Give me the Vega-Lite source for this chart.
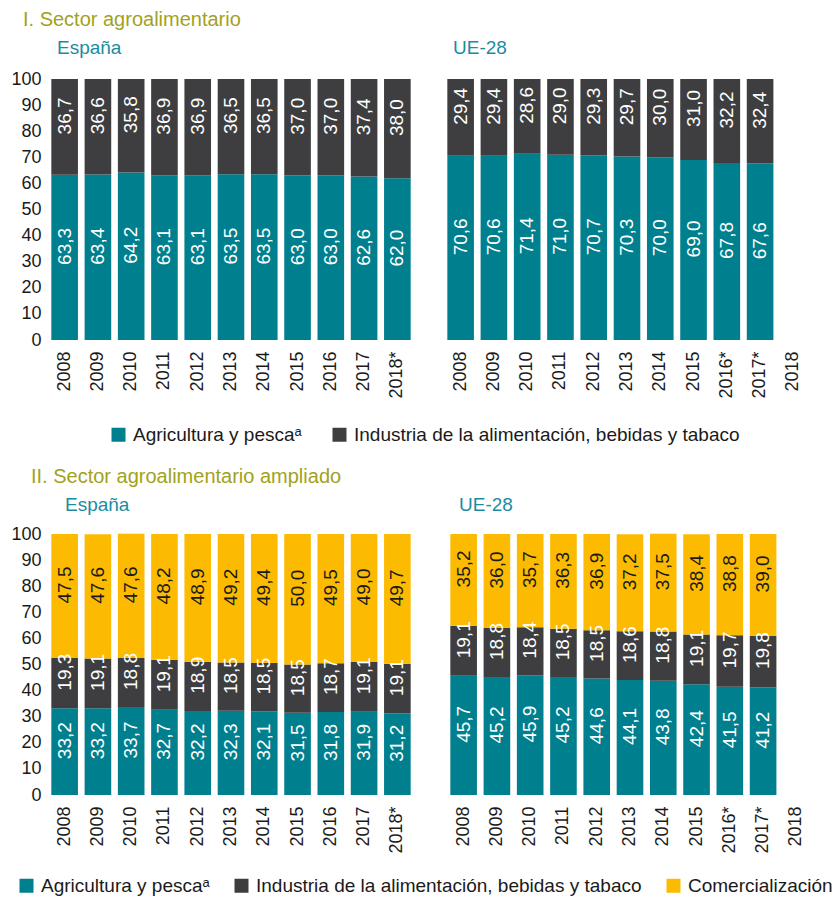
{
  "$schema": "https://vega.github.io/schema/vega-lite/v6.json",
  "padding": {"left": 10, "top": 10, "right": 0, "bottom": 0},
  "background": "white",
  "config": {
    "font": "Liberation Sans",
    "locale": {"number": {"decimal": ",", "thousands": ".", "grouping": [3], "currency": ["", " €"]}},
    "view": {"stroke": null},
    "axis": {"labelFont": "Liberation Sans", "labelFontSize": 18, "labelColor": "#1a1a1a", "domain": false, "ticks": false, "grid": false},
    "legend": {"padding": 0, "orient": "none", "direction": "horizontal", "symbolType": "square", "symbolSize": 196, "symbolStrokeWidth": 0, "labelFont": "Liberation Sans", "labelFontSize": 19, "labelColor": "#1a1a1a", "labelOffset": 5, "labelLimit": 0},
    "title": {"fontWeight": "normal", "anchor": "start", "font": "Liberation Sans"}
  },
  "datasets": {
    "topES": [
      {"year": "2008", "cat": "Agricultura y pescaᵃ", "k": 1, "v": 63.3},
      {"year": "2009", "cat": "Agricultura y pescaᵃ", "k": 1, "v": 63.4},
      {"year": "2010", "cat": "Agricultura y pescaᵃ", "k": 1, "v": 64.2},
      {"year": "2011", "cat": "Agricultura y pescaᵃ", "k": 1, "v": 63.1},
      {"year": "2012", "cat": "Agricultura y pescaᵃ", "k": 1, "v": 63.1},
      {"year": "2013", "cat": "Agricultura y pescaᵃ", "k": 1, "v": 63.5},
      {"year": "2014", "cat": "Agricultura y pescaᵃ", "k": 1, "v": 63.5},
      {"year": "2015", "cat": "Agricultura y pescaᵃ", "k": 1, "v": 63.0},
      {"year": "2016", "cat": "Agricultura y pescaᵃ", "k": 1, "v": 63.0},
      {"year": "2017", "cat": "Agricultura y pescaᵃ", "k": 1, "v": 62.6},
      {"year": "2018*", "cat": "Agricultura y pescaᵃ", "k": 1, "v": 62.0},
      {"year": "2008", "cat": "Industria de la alimentación, bebidas y tabaco", "k": 2, "v": 36.7},
      {"year": "2009", "cat": "Industria de la alimentación, bebidas y tabaco", "k": 2, "v": 36.6},
      {"year": "2010", "cat": "Industria de la alimentación, bebidas y tabaco", "k": 2, "v": 35.8},
      {"year": "2011", "cat": "Industria de la alimentación, bebidas y tabaco", "k": 2, "v": 36.9},
      {"year": "2012", "cat": "Industria de la alimentación, bebidas y tabaco", "k": 2, "v": 36.9},
      {"year": "2013", "cat": "Industria de la alimentación, bebidas y tabaco", "k": 2, "v": 36.5},
      {"year": "2014", "cat": "Industria de la alimentación, bebidas y tabaco", "k": 2, "v": 36.5},
      {"year": "2015", "cat": "Industria de la alimentación, bebidas y tabaco", "k": 2, "v": 37.0},
      {"year": "2016", "cat": "Industria de la alimentación, bebidas y tabaco", "k": 2, "v": 37.0},
      {"year": "2017", "cat": "Industria de la alimentación, bebidas y tabaco", "k": 2, "v": 37.4},
      {"year": "2018*", "cat": "Industria de la alimentación, bebidas y tabaco", "k": 2, "v": 38.0}
    ],
    "topUE": [
      {"year": "2008", "cat": "Agricultura y pescaᵃ", "k": 1, "v": 70.6},
      {"year": "2009", "cat": "Agricultura y pescaᵃ", "k": 1, "v": 70.6},
      {"year": "2010", "cat": "Agricultura y pescaᵃ", "k": 1, "v": 71.4},
      {"year": "2011", "cat": "Agricultura y pescaᵃ", "k": 1, "v": 71.0},
      {"year": "2012", "cat": "Agricultura y pescaᵃ", "k": 1, "v": 70.7},
      {"year": "2013", "cat": "Agricultura y pescaᵃ", "k": 1, "v": 70.3},
      {"year": "2014", "cat": "Agricultura y pescaᵃ", "k": 1, "v": 70.0},
      {"year": "2015", "cat": "Agricultura y pescaᵃ", "k": 1, "v": 69.0},
      {"year": "2016*", "cat": "Agricultura y pescaᵃ", "k": 1, "v": 67.8},
      {"year": "2017*", "cat": "Agricultura y pescaᵃ", "k": 1, "v": 67.6},
      {"year": "2008", "cat": "Industria de la alimentación, bebidas y tabaco", "k": 2, "v": 29.4},
      {"year": "2009", "cat": "Industria de la alimentación, bebidas y tabaco", "k": 2, "v": 29.4},
      {"year": "2010", "cat": "Industria de la alimentación, bebidas y tabaco", "k": 2, "v": 28.6},
      {"year": "2011", "cat": "Industria de la alimentación, bebidas y tabaco", "k": 2, "v": 29.0},
      {"year": "2012", "cat": "Industria de la alimentación, bebidas y tabaco", "k": 2, "v": 29.3},
      {"year": "2013", "cat": "Industria de la alimentación, bebidas y tabaco", "k": 2, "v": 29.7},
      {"year": "2014", "cat": "Industria de la alimentación, bebidas y tabaco", "k": 2, "v": 30.0},
      {"year": "2015", "cat": "Industria de la alimentación, bebidas y tabaco", "k": 2, "v": 31.0},
      {"year": "2016*", "cat": "Industria de la alimentación, bebidas y tabaco", "k": 2, "v": 32.2},
      {"year": "2017*", "cat": "Industria de la alimentación, bebidas y tabaco", "k": 2, "v": 32.4}
    ],
    "botES": [
      {"year": "2008", "cat": "Agricultura y pescaᵃ", "k": 1, "v": 33.2},
      {"year": "2009", "cat": "Agricultura y pescaᵃ", "k": 1, "v": 33.2},
      {"year": "2010", "cat": "Agricultura y pescaᵃ", "k": 1, "v": 33.7},
      {"year": "2011", "cat": "Agricultura y pescaᵃ", "k": 1, "v": 32.7},
      {"year": "2012", "cat": "Agricultura y pescaᵃ", "k": 1, "v": 32.2},
      {"year": "2013", "cat": "Agricultura y pescaᵃ", "k": 1, "v": 32.3},
      {"year": "2014", "cat": "Agricultura y pescaᵃ", "k": 1, "v": 32.1},
      {"year": "2015", "cat": "Agricultura y pescaᵃ", "k": 1, "v": 31.5},
      {"year": "2016", "cat": "Agricultura y pescaᵃ", "k": 1, "v": 31.8},
      {"year": "2017", "cat": "Agricultura y pescaᵃ", "k": 1, "v": 31.9},
      {"year": "2018*", "cat": "Agricultura y pescaᵃ", "k": 1, "v": 31.2},
      {"year": "2008", "cat": "Industria de la alimentación, bebidas y tabaco", "k": 2, "v": 19.3},
      {"year": "2009", "cat": "Industria de la alimentación, bebidas y tabaco", "k": 2, "v": 19.1},
      {"year": "2010", "cat": "Industria de la alimentación, bebidas y tabaco", "k": 2, "v": 18.8},
      {"year": "2011", "cat": "Industria de la alimentación, bebidas y tabaco", "k": 2, "v": 19.1},
      {"year": "2012", "cat": "Industria de la alimentación, bebidas y tabaco", "k": 2, "v": 18.9},
      {"year": "2013", "cat": "Industria de la alimentación, bebidas y tabaco", "k": 2, "v": 18.5},
      {"year": "2014", "cat": "Industria de la alimentación, bebidas y tabaco", "k": 2, "v": 18.5},
      {"year": "2015", "cat": "Industria de la alimentación, bebidas y tabaco", "k": 2, "v": 18.5},
      {"year": "2016", "cat": "Industria de la alimentación, bebidas y tabaco", "k": 2, "v": 18.7},
      {"year": "2017", "cat": "Industria de la alimentación, bebidas y tabaco", "k": 2, "v": 19.1},
      {"year": "2018*", "cat": "Industria de la alimentación, bebidas y tabaco", "k": 2, "v": 19.1},
      {"year": "2008", "cat": "Comercialización", "k": 3, "v": 47.5},
      {"year": "2009", "cat": "Comercialización", "k": 3, "v": 47.6},
      {"year": "2010", "cat": "Comercialización", "k": 3, "v": 47.6},
      {"year": "2011", "cat": "Comercialización", "k": 3, "v": 48.2},
      {"year": "2012", "cat": "Comercialización", "k": 3, "v": 48.9},
      {"year": "2013", "cat": "Comercialización", "k": 3, "v": 49.2},
      {"year": "2014", "cat": "Comercialización", "k": 3, "v": 49.4},
      {"year": "2015", "cat": "Comercialización", "k": 3, "v": 50.0},
      {"year": "2016", "cat": "Comercialización", "k": 3, "v": 49.5},
      {"year": "2017", "cat": "Comercialización", "k": 3, "v": 49.0},
      {"year": "2018*", "cat": "Comercialización", "k": 3, "v": 49.7}
    ],
    "botUE": [
      {"year": "2008", "cat": "Agricultura y pescaᵃ", "k": 1, "v": 45.7},
      {"year": "2009", "cat": "Agricultura y pescaᵃ", "k": 1, "v": 45.2},
      {"year": "2010", "cat": "Agricultura y pescaᵃ", "k": 1, "v": 45.9},
      {"year": "2011", "cat": "Agricultura y pescaᵃ", "k": 1, "v": 45.2},
      {"year": "2012", "cat": "Agricultura y pescaᵃ", "k": 1, "v": 44.6},
      {"year": "2013", "cat": "Agricultura y pescaᵃ", "k": 1, "v": 44.1},
      {"year": "2014", "cat": "Agricultura y pescaᵃ", "k": 1, "v": 43.8},
      {"year": "2015", "cat": "Agricultura y pescaᵃ", "k": 1, "v": 42.4},
      {"year": "2016*", "cat": "Agricultura y pescaᵃ", "k": 1, "v": 41.5},
      {"year": "2017*", "cat": "Agricultura y pescaᵃ", "k": 1, "v": 41.2},
      {"year": "2008", "cat": "Industria de la alimentación, bebidas y tabaco", "k": 2, "v": 19.1},
      {"year": "2009", "cat": "Industria de la alimentación, bebidas y tabaco", "k": 2, "v": 18.8},
      {"year": "2010", "cat": "Industria de la alimentación, bebidas y tabaco", "k": 2, "v": 18.4},
      {"year": "2011", "cat": "Industria de la alimentación, bebidas y tabaco", "k": 2, "v": 18.5},
      {"year": "2012", "cat": "Industria de la alimentación, bebidas y tabaco", "k": 2, "v": 18.5},
      {"year": "2013", "cat": "Industria de la alimentación, bebidas y tabaco", "k": 2, "v": 18.6},
      {"year": "2014", "cat": "Industria de la alimentación, bebidas y tabaco", "k": 2, "v": 18.8},
      {"year": "2015", "cat": "Industria de la alimentación, bebidas y tabaco", "k": 2, "v": 19.1},
      {"year": "2016*", "cat": "Industria de la alimentación, bebidas y tabaco", "k": 2, "v": 19.7},
      {"year": "2017*", "cat": "Industria de la alimentación, bebidas y tabaco", "k": 2, "v": 19.8},
      {"year": "2008", "cat": "Comercialización", "k": 3, "v": 35.2},
      {"year": "2009", "cat": "Comercialización", "k": 3, "v": 36.0},
      {"year": "2010", "cat": "Comercialización", "k": 3, "v": 35.7},
      {"year": "2011", "cat": "Comercialización", "k": 3, "v": 36.3},
      {"year": "2012", "cat": "Comercialización", "k": 3, "v": 36.9},
      {"year": "2013", "cat": "Comercialización", "k": 3, "v": 37.2},
      {"year": "2014", "cat": "Comercialización", "k": 3, "v": 37.5},
      {"year": "2015", "cat": "Comercialización", "k": 3, "v": 38.4},
      {"year": "2016*", "cat": "Comercialización", "k": 3, "v": 38.8},
      {"year": "2017*", "cat": "Comercialización", "k": 3, "v": 39.0}
    ]
  },
  "vconcat": [
    {
      "title": {"text": "I. Sector agroalimentario", "color": "#a2a21c", "fontSize": 20, "frame": "bounds", "dx": 12, "offset": -7, "baseline": "alphabetic"},
      "spacing": 30,
      "resolve": {"scale": {"color": "shared", "x": "independent", "y": "independent"}},
      "hconcat": [
        {
          "data": {"name": "topES"},
          "width": 366, "height": 261,
          "title": {"text": "España", "color": "#1b8ca0", "fontSize": 19, "dx": 9, "offset": -3, "baseline": "alphabetic", "frame": "group"},
          "encoding": {
            "x": {"field": "year", "type": "nominal", "title": null, "scale": {"domain": ["2008","2009","2010","2011","2012","2013","2014","2015","2016","2017","2018*"], "paddingInner": 0.2, "paddingOuter": 0.1}, "axis": {"labelAngle": -90, "labelPadding": 11}},
            "order": {"field": "k", "type": "quantitative"}
          },
          "layer": [
            {"mark": {"type": "bar"},
             "encoding": {
               "y": {"field": "v", "type": "quantitative", "stack": "zero", "title": null, "scale": {"domain": [0, 100], "nice": false}, "axis": {"values": [0,10,20,30,40,50,60,70,80,90,100], "labelPadding": 7}},
               "color": {"field": "cat", "type": "nominal", "scale": {"domain": ["Agricultura y pescaᵃ", "Industria de la alimentación, bebidas y tabaco"], "range": ["#007f8f", "#3e3e40"]}, "legend": {"title": null, "legendX": 61, "legendY": 346, "columnPadding": 28}}
             }},
            {"mark": {"type": "text", "angle": 270, "fontSize": 19, "dx": 11, "align": "center", "baseline": "middle"},
             "encoding": {
               "y": {"field": "v", "type": "quantitative", "stack": "zero", "bandPosition": 0.5, "title": null, "scale": {"domain": [0, 100], "nice": false}, "axis": {"values": [0,10,20,30,40,50,60,70,80,90,100], "labelPadding": 7}},
               "text": {"field": "v", "type": "quantitative", "format": ".1f"},
               "color": {"condition": {"test": "datum.cat === 'Comercialización'", "value": "#1a1a1a"}, "value": "white"}
             }}
          ]
        },
        {
          "data": {"name": "topUE"},
          "width": 366, "height": 261,
          "title": {"text": "UE-28", "color": "#1b8ca0", "fontSize": 19, "dx": 9, "offset": 6, "baseline": "alphabetic", "frame": "group"},
          "encoding": {
            "x": {"field": "year", "type": "nominal", "title": null, "scale": {"domain": ["2008","2009","2010","2011","2012","2013","2014","2015","2016*","2017*","2018"], "paddingInner": 0.2, "paddingOuter": 0.1}, "axis": {"labelAngle": -90, "labelPadding": 11}},
            "order": {"field": "k", "type": "quantitative"}
          },
          "layer": [
            {"mark": {"type": "bar"},
             "encoding": {
               "y": {"field": "v", "type": "quantitative", "stack": "zero", "title": null, "scale": {"domain": [0, 100], "nice": false}, "axis": null},
               "color": {"field": "cat", "type": "nominal", "scale": {"domain": ["Agricultura y pescaᵃ", "Industria de la alimentación, bebidas y tabaco"], "range": ["#007f8f", "#3e3e40"]}, "legend": {"title": null, "legendX": 61, "legendY": 346, "columnPadding": 28}}
             }},
            {"mark": {"type": "text", "angle": 270, "fontSize": 19, "dx": 11, "align": "center", "baseline": "middle"},
             "encoding": {
               "y": {"field": "v", "type": "quantitative", "stack": "zero", "bandPosition": 0.5, "title": null, "scale": {"domain": [0, 100], "nice": false}, "axis": null},
               "text": {"field": "v", "type": "quantitative", "format": ".1f"},
               "color": {"condition": {"test": "datum.cat === 'Comercialización'", "value": "#1a1a1a"}, "value": "white"}
             }}
          ]
        }
      ]
    },
    {
      "title": {"text": "II. Sector agroalimentario ampliado", "color": "#a2a21c", "fontSize": 20, "frame": "bounds", "dx": 20, "offset": -7, "baseline": "alphabetic"},
      "spacing": 33,
      "resolve": {"scale": {"color": "shared", "x": "independent", "y": "independent"}},
      "hconcat": [
        {
          "data": {"name": "botES"},
          "width": 366, "height": 261,
          "title": {"text": "España", "color": "#1b8ca0", "fontSize": 19, "dx": 17, "offset": -5, "baseline": "alphabetic", "frame": "group"},
          "encoding": {
            "x": {"field": "year", "type": "nominal", "title": null, "scale": {"domain": ["2008","2009","2010","2011","2012","2013","2014","2015","2016","2017","2018*"], "paddingInner": 0.2, "paddingOuter": 0.1}, "axis": {"labelAngle": -90, "labelPadding": 11}},
            "order": {"field": "k", "type": "quantitative"}
          },
          "layer": [
            {"mark": {"type": "bar"},
             "encoding": {
               "y": {"field": "v", "type": "quantitative", "stack": "zero", "title": null, "scale": {"domain": [0, 100], "nice": false}, "axis": {"values": [0,10,20,30,40,50,60,70,80,90,100], "labelPadding": 7}},
               "color": {"field": "cat", "type": "nominal", "scale": {"domain": ["Agricultura y pescaᵃ", "Industria de la alimentación, bebidas y tabaco", "Comercialización"], "range": ["#007f8f", "#3e3e40", "#fcbb00"]}, "legend": {"title": null, "legendX": -31, "legendY": 342, "columnPadding": 22}}
             }},
            {"mark": {"type": "text", "angle": 270, "fontSize": 19, "dx": 11, "align": "center", "baseline": "middle"},
             "encoding": {
               "y": {"field": "v", "type": "quantitative", "stack": "zero", "bandPosition": 0.5, "title": null, "scale": {"domain": [0, 100], "nice": false}, "axis": {"values": [0,10,20,30,40,50,60,70,80,90,100], "labelPadding": 7}},
               "text": {"field": "v", "type": "quantitative", "format": ".1f"},
               "color": {"condition": {"test": "datum.cat === 'Comercialización'", "value": "#1a1a1a"}, "value": "white"}
             }}
          ]
        },
        {
          "data": {"name": "botUE"},
          "width": 366, "height": 261,
          "title": {"text": "UE-28", "color": "#1b8ca0", "fontSize": 19, "dx": 12, "offset": 4, "baseline": "alphabetic", "frame": "group"},
          "encoding": {
            "x": {"field": "year", "type": "nominal", "title": null, "scale": {"domain": ["2008","2009","2010","2011","2012","2013","2014","2015","2016*","2017*","2018"], "paddingInner": 0.2, "paddingOuter": 0.1}, "axis": {"labelAngle": -90, "labelPadding": 11}},
            "order": {"field": "k", "type": "quantitative"}
          },
          "layer": [
            {"mark": {"type": "bar"},
             "encoding": {
               "y": {"field": "v", "type": "quantitative", "stack": "zero", "title": null, "scale": {"domain": [0, 100], "nice": false}, "axis": null},
               "color": {"field": "cat", "type": "nominal", "scale": {"domain": ["Agricultura y pescaᵃ", "Industria de la alimentación, bebidas y tabaco", "Comercialización"], "range": ["#007f8f", "#3e3e40", "#fcbb00"]}, "legend": {"title": null, "legendX": -31, "legendY": 342, "columnPadding": 22}}
             }},
            {"mark": {"type": "text", "angle": 270, "fontSize": 19, "dx": 11, "align": "center", "baseline": "middle"},
             "encoding": {
               "y": {"field": "v", "type": "quantitative", "stack": "zero", "bandPosition": 0.5, "title": null, "scale": {"domain": [0, 100], "nice": false}, "axis": null},
               "text": {"field": "v", "type": "quantitative", "format": ".1f"},
               "color": {"condition": {"test": "datum.cat === 'Comercialización'", "value": "#1a1a1a"}, "value": "white"}
             }}
          ]
        }
      ]
    }
  ],
  "spacing": 21,
  "resolve": {"scale": {"color": "independent"}}
}
